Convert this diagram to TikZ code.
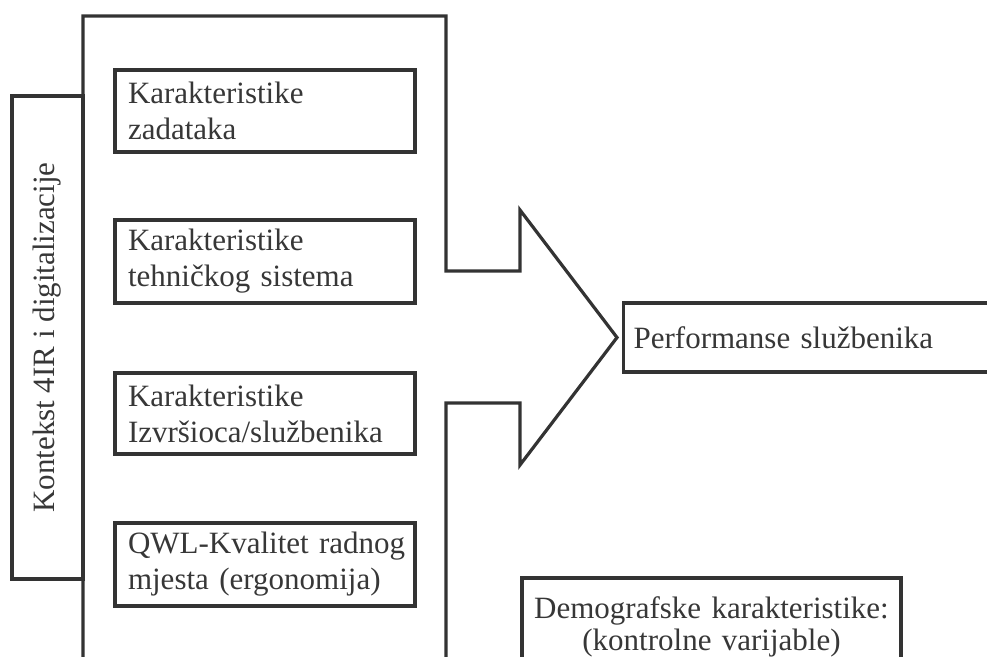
\documentclass[tikz,border=0pt]{standalone}
\usepackage{fontspec}
\setmainfont{Liberation Serif}
\definecolor{ink}{RGB}{51,51,51}
\definecolor{txt}{RGB}{55,55,55}
\tikzset{
  line/.style={draw=ink, line width=2.4pt, line join=miter},
  fbox/.style={line, rectangle, inner sep=0pt, text=txt, font=\fontsize{23.25}{27}\selectfont},
  factor/.style={fbox, minimum width=225pt, text width=205.5pt, inner xsep=9.75pt, align=left},
}
\begin{document}
\begin{tikzpicture}[x=0.75pt, y=-0.75pt]
\useasboundingbox (0,0) rectangle (987,656);
\clip (0,0) rectangle (987,656);
% big arrow outline
\draw[line] (83,670) -- (83,16) -- (446,16) -- (446,271) -- (520,271) -- (520,210)
  -- (617,337.5) -- (520,465) -- (520,403) -- (446,403) -- (446,670);
% context box
\node[fbox, rotate=90, minimum width=362.25pt, minimum height=53.25pt] (ctx) at (47.5,337.5)
  {Kontekst 4IR i digitalizacije};
% factor boxes
\node[factor, minimum height=61.5pt] (f1) at (265,111) {Karakteristike\\zadataka};
\node[factor, minimum height=62.25pt] (f2) at (265,261.5) {Karakteristike\\tehničkog sistema};
\node[factor, minimum height=60.75pt] (f3) at (265,413.5) {Karakteristike\\Izvršioca/službenika};
\node[factor, minimum height=62.25pt] (f4) at (265,564.5) {\mbox{QWL-Kvalitet radnog}\\mjesta (ergonomija)};
% performance
\node[fbox, anchor=west, minimum width=285pt, minimum height=51.75pt, text width=270pt,
  inner xsep=7.5pt, align=left] (perf) at (622,337.5) {Performanse službenika};
% demographics
\node[fbox, minimum width=284.25pt, minimum height=73.5pt, text width=270pt, align=center,
  font=\fontsize{23.25}{24.5}\selectfont] (demo) at (711.5,627)
  {Demografske karakteristike:\\(kontrolne varijable)};
\end{tikzpicture}
\end{document}
